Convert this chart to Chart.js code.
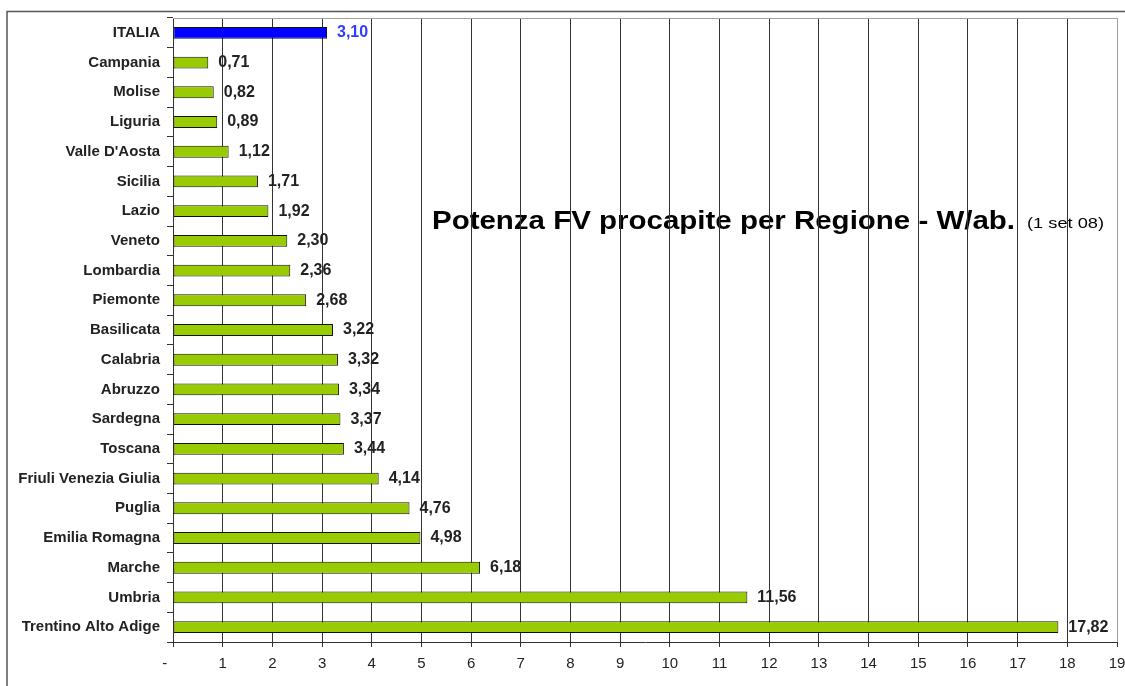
<!DOCTYPE html>
<html>
<head>
<meta charset="utf-8">
<script src="https://cdn.jsdelivr.net/npm/chart.js@4/dist/chart.umd.min.js"></script>
<style>
  html, body { margin: 0; padding: 0; background: #fff; }
  #wrap { width: 1125px; height: 686px; }
</style>
</head>
<body>
<div id="wrap"><canvas id="myChart" width="1125" height="686"></canvas></div>
<script>
// data
const regioni = ['ITALIA', 'Campania', 'Molise', 'Liguria', "Valle D'Aosta", 'Sicilia', 'Lazio',
  'Veneto', 'Lombardia', 'Piemonte', 'Basilicata', 'Calabria', 'Abruzzo', 'Sardegna', 'Toscana',
  'Friuli Venezia Giulia', 'Puglia', 'Emilia Romagna', 'Marche', 'Umbria', 'Trentino Alto Adige'];
const wattAb = [3.10, 0.71, 0.82, 0.89, 1.12, 1.71, 1.92, 2.30, 2.36, 2.68, 3.22, 3.32, 3.34, 3.37,
  3.44, 4.14, 4.76, 4.98, 6.18, 11.56, 17.82];
// excel-style zero: "-" followed by padding, so it sits left of the tick
const xTicks = ['-    ', '1', '2', '3', '4', '5', '6', '7', '8', '9', '10', '11', '12', '13', '14',
  '15', '16', '17', '18', '19'];

const FONT = "'Liberation Sans', Arial, sans-serif";

const colori = regioni.map(r => r === 'ITALIA' ? '#0000ff' : '#99cc00');

// draw text stretched horizontally to a given width (the original is a stretched picture)
function stretchText(c, txt, x, y, width) {
  const w = c.measureText(txt).width;
  c.save();
  c.translate(x, y);
  c.scale(width / w, 1);
  c.fillText(txt, 0, 0);
  c.restore();
}

// value labels + title + frame
const extras = {
  id: 'extras',
  beforeDraw(chart) {
    const c = chart.ctx;
    c.save();
    c.fillStyle = '#000';
    c.textBaseline = 'alphabetic';
    c.textAlign = 'left';
    c.font = 'bold 26px ' + FONT;
    stretchText(c, 'Potenza FV procapite per Regione - W/ab.', 432, 229, 583);
    c.font = '15px ' + FONT;
    stretchText(c, '(1 set 08)', 1027, 228, 77);
    c.restore();
  },
  afterDraw(chart) {
    const c = chart.ctx;
    const a = chart.chartArea;
    c.save();
    // plot top / right border
    c.strokeStyle = '#a0a0a0';
    c.lineWidth = 1;
    c.beginPath();
    c.moveTo(a.left, a.top + 0.5);
    c.lineTo(a.right + 0.5, a.top + 0.5);
    c.lineTo(a.right + 0.5, a.bottom);
    c.stroke();
    // outer frame
    c.strokeStyle = '#555';
    c.lineWidth = 1.5;
    c.beginPath();
    c.moveTo(7, 686);
    c.lineTo(7, 11.5);
    c.lineTo(1125, 11.5);
    c.stroke();
    // value labels
    const meta = chart.getDatasetMeta(0);
    c.font = 'bold 16px ' + FONT;
    c.textBaseline = 'middle';
    c.textAlign = 'left';
    meta.data.forEach((bar, i) => {
      c.fillStyle = regioni[i] === 'ITALIA' ? '#2f3cff' : '#222';
      c.fillText(wattAb[i].toFixed(2).replace('.', ','), bar.x + 10, bar.y);
    });
    c.restore();
  }
};

const config = {
  type: 'bar',
  data: {
    labels: regioni,
    datasets: [{
      data: wattAb,
      backgroundColor: colori,
      borderColor: '#111',
      borderWidth: 1,
      borderSkipped: false,
      categoryPercentage: 1,
      barPercentage: 0.4
    }]
  },
  options: {
    indexAxis: 'y',
    responsive: false,
    animation: false,
    devicePixelRatio: 1,
    layout: { padding: { left: 0, top: 18, right: 0, bottom: 0 } },
    plugins: {
      legend: { display: false },
      tooltip: { enabled: false },
      title: { display: false }
    },
    scales: {
      x: {
        type: 'linear',
        min: 0,
        max: 19,
        afterFit: s => { s.height = 44; s.paddingLeft = 0; s.paddingRight = 8; },
        ticks: {
          stepSize: 1,
          color: '#222',
          font: { family: FONT, size: 15 },
          padding: 8,
          callback: (v, i) => xTicks[i]
        },
        grid: {
          color: ctx => ctx.tick && ctx.tick.value === 19 ? '#a0a0a0' : '#333',
          tickColor: '#333',
          lineWidth: 1,
          tickLength: 5
        },
        border: { display: true, color: '#333', width: 1 }
      },
      y: {
        afterFit: s => { s.width = 173; },
        ticks: {
          color: '#222',
          font: { family: FONT, size: 15, weight: 'bold' },
          padding: 7
        },
        grid: {
          offset: true,
          drawOnChartArea: false,
          color: '#333',
          tickLength: 6
        },
        border: { display: true, color: '#333', width: 1 }
      }
    }
  },
  plugins: [extras]
};

const myChart = new Chart(document.getElementById('myChart'), config);
</script>
</body>
</html>
